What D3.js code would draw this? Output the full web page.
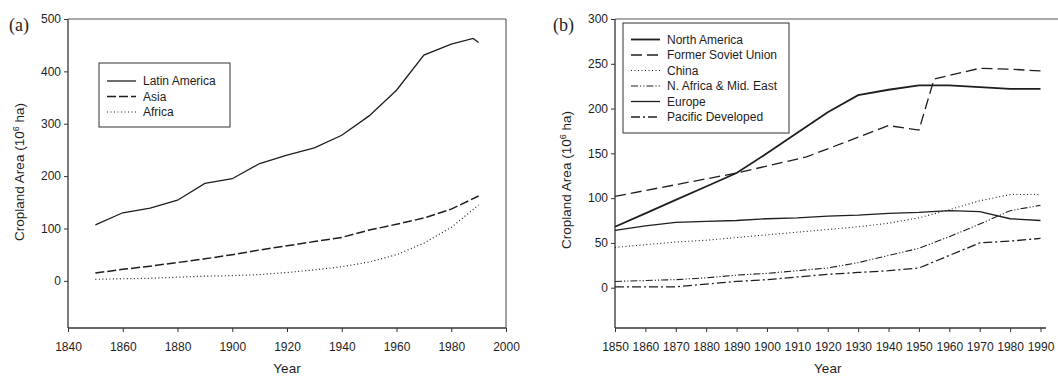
<!DOCTYPE html>
<html>
<head>
<meta charset="utf-8">
<script src="https://cdn.jsdelivr.net/npm/d3@7"></script>
<style>
body { margin: 0; background: #fff; }
svg text { font-family: "Liberation Sans", Arial, sans-serif; fill: #1e1e1e; }
.axis text { font-size: 12px; }
.axis line { stroke: #333; }
</style>
</head>
<body>
<svg id="chart" width="1058" height="378"></svg>
<script>
"use strict";

// panel (a)
var decadesA = [1850, 1860, 1870, 1880, 1890, 1900, 1910, 1920, 1930, 1940, 1950, 1960, 1970, 1980, 1990],
    latinYears = [1850, 1860, 1870, 1880, 1890, 1900, 1910, 1920, 1930, 1940, 1950, 1960, 1970, 1980, 1988, 1990],
    latinValues = [107, 130, 139, 154, 186, 195, 224, 240, 254, 278, 315, 364, 431, 452, 463, 455],
    asiaValues = [15, 22, 28, 35, 42, 50, 59, 67, 75, 83, 97, 108, 120, 137, 162],
    africaValues = [3, 4, 5, 7, 9, 10, 12, 16, 21, 27, 36, 50, 72, 102, 145],
    xTicksA = [1840, 1860, 1880, 1900, 1920, 1940, 1960, 1980, 2000],
    yTicksA = [0, 100, 200, 300, 400, 500];

// panel (b)
var decadesB = [1850, 1860, 1870, 1880, 1890, 1900, 1910, 1920, 1930, 1940, 1950, 1960, 1970, 1980, 1990],
    northAmericaValues = [68, 83, 98, 113, 128, 150, 173, 196, 215, 221, 226, 226, 224, 222, 222],
    sovietYears = [1850, 1890, 1913, 1940, 1950, 1955, 1970, 1980, 1990],
    sovietValues = [102, 128, 146, 181, 176, 233, 245, 244, 242],
    chinaValues = [45, 48, 51, 53, 56, 59, 62, 65, 68, 72, 78, 87, 97, 104, 104],
    meastValues = [7, 8, 9, 11, 14, 16, 19, 22, 28, 36, 44, 57, 71, 86, 92],
    europeValues = [64, 69, 73, 74, 75, 77, 78, 80, 81, 83, 84, 86, 85, 77, 75],
    pacificValues = [1, 1, 1, 4, 7, 9, 12, 15, 17, 19, 22, 36, 50, 52, 55],
    xTicksB = decadesB,
    yTicksB = [0, 50, 100, 150, 200, 250, 300];

var svg = d3.select('#chart'),
    ink = '#1e1e1e';

function zip(years, values) {
    return years.map(function (yr, i) { return [yr, values[i]]; });
}

function drawPanel(cfg) {
    var g = svg.append('g'),
        x = d3.scaleLinear().domain(cfg.xDomain).range([cfg.left, cfg.right]),
        y = d3.scaleLinear().domain(cfg.yDomain).range([cfg.bottom, cfg.top]),
        line = d3.line().x(function (d) { return x(d[0]); }).y(function (d) { return y(d[1]); }),
        title;

    g.append('g')
        .attr('class', 'axis')
        .attr('transform', 'translate(' + cfg.left + ',0)')
        .call(d3.axisLeft(y).tickValues(cfg.yTicks).tickSize(4).tickPadding(3))
        .call(function (a) { a.select('.domain').remove(); });

    g.append('g')
        .attr('class', 'axis')
        .attr('transform', 'translate(0,' + cfg.bottom + ')')
        .call(d3.axisBottom(x).tickValues(cfg.xTicks).tickFormat(d3.format('d')).tickSize(4).tickPadding(10))
        .call(function (a) { a.select('.domain').remove(); });

    // frame
    g.append('line').attr('x1', cfg.left).attr('x2', cfg.left).attr('y1', cfg.top).attr('y2', cfg.bottom)
        .attr('stroke', '#333').attr('stroke-width', 1.3);
    g.append('line').attr('x1', cfg.left).attr('x2', cfg.bottomEnd).attr('y1', cfg.bottom).attr('y2', cfg.bottom)
        .attr('stroke', '#333').attr('stroke-width', 1.3);
    g.append('line').attr('x1', cfg.left).attr('x2', cfg.topEnd).attr('y1', cfg.top).attr('y2', cfg.top)
        .attr('stroke', '#555').attr('stroke-width', 1);
    if (cfg.rightBorder) {
        g.append('line').attr('x1', cfg.right).attr('x2', cfg.right).attr('y1', cfg.top).attr('y2', cfg.bottom)
            .attr('stroke', '#444').attr('stroke-width', 1);
    }

    cfg.series.forEach(function (s) {
        g.append('path')
            .datum(zip(s.years, s.values))
            .attr('fill', 'none')
            .attr('stroke', ink)
            .attr('stroke-width', s.width)
            .attr('stroke-dasharray', s.dash)
            .attr('d', line);
    });

    // legend
    var lg = g.append('g');
    lg.append('rect')
        .attr('x', cfg.legend.x).attr('y', cfg.legend.y)
        .attr('width', cfg.legend.w).attr('height', cfg.legend.h)
        .attr('fill', '#fff').attr('stroke', '#333').attr('stroke-width', 1);
    cfg.series.forEach(function (s, i) {
        var ly = cfg.legend.y + cfg.legend.first + i * cfg.legend.step;
        lg.append('line')
            .attr('x1', cfg.legend.x + 8).attr('x2', cfg.legend.x + 37)
            .attr('y1', ly).attr('y2', ly)
            .attr('stroke', ink).attr('stroke-width', s.width)
            .attr('stroke-dasharray', s.dash);
        lg.append('text')
            .attr('x', cfg.legend.x + 44).attr('y', ly + 4)
            .attr('font-size', 12)
            .text(s.name);
    });

    // panel letter
    g.append('text')
        .attr('x', cfg.letterX).attr('y', 31)
        .attr('font-size', 18)
        .style('font-family', '"Liberation Serif", "Times New Roman", serif')
        .text(cfg.letter);

    title = g.append('text')
        .attr('transform', 'translate(' + cfg.titleX + ',' + cfg.titleY + ')rotate(-90)')
        .attr('text-anchor', 'middle')
        .attr('font-size', 13.5);
    title.append('tspan').text('Cropland Area (10');
    title.append('tspan').attr('font-size', 9).attr('dy', -5).text('6');
    title.append('tspan').attr('dy', 5).text(' ha)');

    g.append('text')
        .attr('x', (cfg.left + cfg.right) / 2).attr('y', 373)
        .attr('text-anchor', 'middle')
        .attr('font-size', 13.5)
        .text('Year');
}

drawPanel({
    letter: '(a)', letterX: 9,
    left: 68, right: 506, top: 19, bottom: 328,
    topEnd: 506, bottomEnd: 506, rightBorder: true,
    xDomain: [1840, 2000], yDomain: [-90, 500],
    xTicks: xTicksA, yTicks: yTicksA,
    titleX: 24, titleY: 172,
    legend: { x: 99, y: 63, w: 131, h: 64, first: 18, step: 15.5 },
    series: [
        { name: 'Latin America', years: latinYears, values: latinValues, width: 1.3, dash: null },
        { name: 'Asia', years: decadesA, values: asiaValues, width: 1.5, dash: '9,3' },
        { name: 'Africa', years: decadesA, values: africaValues, width: 1.2, dash: '1,2.5' }
    ]
});

drawPanel({
    letter: '(b)', letterX: 553,
    left: 615, right: 1040.5, top: 19, bottom: 328,
    topEnd: 1058, bottomEnd: 1046, rightBorder: false,
    xDomain: [1850, 1990], yDomain: [-45, 300],
    xTicks: xTicksB, yTicks: yTicksB,
    titleX: 571, titleY: 180,
    legend: { x: 623, y: 23, w: 166, h: 110, first: 16.5, step: 15.5 },
    series: [
        { name: 'North America', years: decadesB, values: northAmericaValues, width: 1.8, dash: null },
        { name: 'Former Soviet Union', years: sovietYears, values: sovietValues, width: 1.3, dash: '11,5' },
        { name: 'China', years: decadesB, values: chinaValues, width: 1.1, dash: '1,2.5' },
        { name: 'N. Africa & Mid. East', years: decadesB, values: meastValues, width: 1.1, dash: '7,2,1.2,2,1.2,2' },
        { name: 'Europe', years: decadesB, values: europeValues, width: 1.3, dash: null },
        { name: 'Pacific Developed', years: decadesB, values: pacificValues, width: 1.3, dash: '9,3,2,3' }
    ]
});
</script>
</body>
</html>
